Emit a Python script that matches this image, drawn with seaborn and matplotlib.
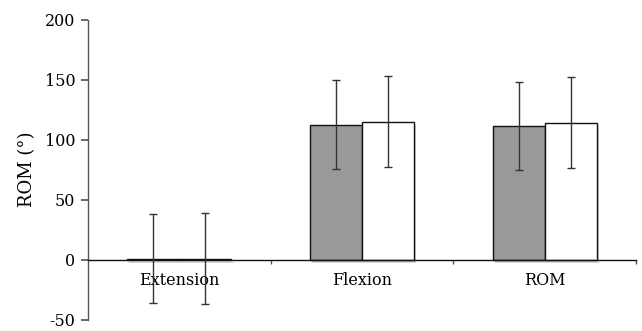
import matplotlib
matplotlib.use("Agg")
import matplotlib.pyplot as plt
import matplotlib.patheffects as pe
import seaborn as sns
import pandas as pd
import numpy as np

# Mean range of motion per movement for the two groups, with standard deviations
movements = ["Extension", "Flexion", "ROM"]
groups = ["Group 1", "Group 2"]
mean_g1 = [1.0, 112.5, 111.3]
mean_g2 = [1.0, 115.0, 114.0]
sd_g1 = [37.0, 37.0, 37.0]
sd_g2 = [38.0, 38.0, 38.0]
yticks = [-50, 0, 50, 100, 150, 200]

df = pd.DataFrame({
    "movement": movements * 2,
    "group": [groups[0]] * 3 + [groups[1]] * 3,
    "mean": mean_g1 + mean_g2,
    "sd": sd_g1 + sd_g2,
})

sns.set_theme(style="white")
plt.rcParams["font.family"] = ["DejaVu Serif"]
plt.rcParams["text.color"] = "black"
plt.rcParams["axes.labelcolor"] = "black"
plt.rcParams["xtick.color"] = "black"
plt.rcParams["ytick.color"] = "black"

fig = plt.figure(figsize=(6.42, 3.31), dpi=100)
ax = fig.add_axes([0.137, 0.034, 0.854, 0.907])

sns.barplot(data=df, x="movement", y="mean", hue="group", order=movements,
            hue_order=groups, palette=["#999999", "#ffffff"], errorbar=None,
            width=0.57, edgecolor="#111111", linewidth=1.0, legend=False, ax=ax)

shadow = [pe.SimplePatchShadow(offset=(1.5, -2.5), shadow_rgbFace="#888888", alpha=0.35), pe.Normal()]
for i, g in enumerate(groups):
    cont = ax.containers[i]
    sub = df[df["group"] == g].set_index("movement").loc[movements]
    xs = [p.get_x() + p.get_width() / 2 for p in cont.patches]
    for p in cont.patches:
        p.set_path_effects(shadow)
    ax.errorbar(xs, sub["mean"], yerr=sub["sd"], fmt="none", ecolor="#333333",
                elinewidth=1.0, capsize=3, capthick=1.0, zorder=5)

ax.set_ylim(-50, 200)
ax.set_xlim(-0.5, 2.5)
ax.set_yticks(yticks)
ax.set_yticklabels([str(t) for t in yticks], fontsize=11.5)
ax.set_ylabel("ROM (°)", fontsize=13, labelpad=6)
ax.set_xlabel("")

for s in ["top", "right"]:
    ax.spines[s].set_visible(False)
ax.spines["bottom"].set_position(("data", 0))
ax.spines["bottom"].set_color("#111111")
ax.spines["bottom"].set_linewidth(1.0)
ax.spines["left"].set_color("#555555")
ax.spines["left"].set_linewidth(1.0)

ax.set_xticks(range(len(movements)))
ax.set_xticklabels(movements, fontsize=11.5)
ax.set_xticks([0.5, 1.5, 2.5], minor=True)
ax.tick_params(axis="x", which="major", length=0, pad=9)
ax.tick_params(axis="x", which="minor", length=3, direction="out", color="#555555", bottom=True)
ax.tick_params(axis="y", which="major", length=5, direction="out", color="#555555", left=True, pad=4)

fig.savefig("out.png", dpi=100)
